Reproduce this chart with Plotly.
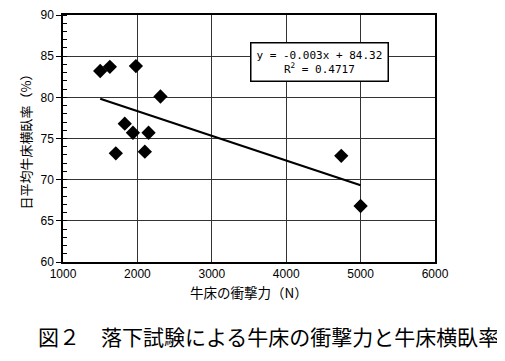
import plotly.graph_objects as go

impact_n = [1500, 1630, 1980, 2310, 1830, 1940, 2150, 1710, 2100, 4740, 5000]
lying_rate = [83.2, 83.7, 83.8, 80.1, 76.8, 75.7, 75.7, 73.2, 73.4, 72.9, 66.8]
slope = -0.003
intercept = 84.32
r2 = 0.4717
x_ticks = [1000, 2000, 3000, 4000, 5000, 6000]
y_ticks = [60, 65, 70, 75, 80, 85, 90]

x_min, x_max = min(impact_n), max(impact_n)
trend_x = [x_min, x_max]
trend_y = [slope * v + intercept for v in trend_x]

tick_font = dict(family="Liberation Sans, Arial, sans-serif", size=12, color="black")
jp = "Noto Sans CJK JP, sans-serif"

fig = go.Figure()
fig.add_trace(go.Scatter(x=trend_x, y=trend_y, mode="lines",
                         line=dict(color="black", width=2.2), showlegend=False))
fig.add_trace(go.Scatter(x=impact_n, y=lying_rate, mode="markers",
                         marker=dict(symbol="diamond", size=11, color="black"), showlegend=False))

fig.add_annotation(xref="paper", yref="paper", x=0.69, y=0.81, xanchor="center", yanchor="middle",
                   text=f"y = {slope:.3f}x + {intercept:.2f}<br>R<sup>2</sup> = {r2}",
                   showarrow=False, font=dict(family="DejaVu Sans Mono, monospace", size=11, color="black"),
                   bgcolor="white", bordercolor="black", borderwidth=1.5, borderpad=5, align="center")

fig.update_layout(
    width=505, height=361,
    margin=dict(l=55, r=78, t=7, b=107),
    plot_bgcolor="white", paper_bgcolor="white",
    xaxis=dict(range=[1000, 6000], tickvals=x_ticks, showgrid=True, gridcolor="#333", gridwidth=1,
               showline=True, linecolor="black", linewidth=1.5, mirror=True, ticks="",
               tickfont=tick_font, zeroline=False, automargin=False, ticklabeloverflow="allow",
               title=dict(text="牛床の衝撃力（N）", font=dict(family=jp, size=13.5, color="black"), standoff=8)),
    yaxis=dict(range=[60, 90], tickvals=y_ticks, showgrid=True, gridcolor="#333", gridwidth=1,
               showline=True, linecolor="black", linewidth=1.5, mirror=True,
               ticks="outside", ticklen=5, tickcolor="black",
               minor=dict(ticks="inside", dtick=1, ticklen=4, tickcolor="black", showgrid=False),
               tickfont=tick_font, zeroline=False, automargin=False, ticklabeloverflow="allow",
               title=dict(text="日平均牛床横臥率（%）", font=dict(family=jp, size=13, color="black"), standoff=6)),
)
fig.add_annotation(xref="paper", yref="paper", x=0.5, y=-0.3, xanchor="center", yanchor="middle",
                   xshift=19,
                   text="図２　落下試験による牛床の衝撃力と牛床横臥率", showarrow=False,
                   font=dict(family=jp, size=21, color="black"))

fig.write_html("out.html")
